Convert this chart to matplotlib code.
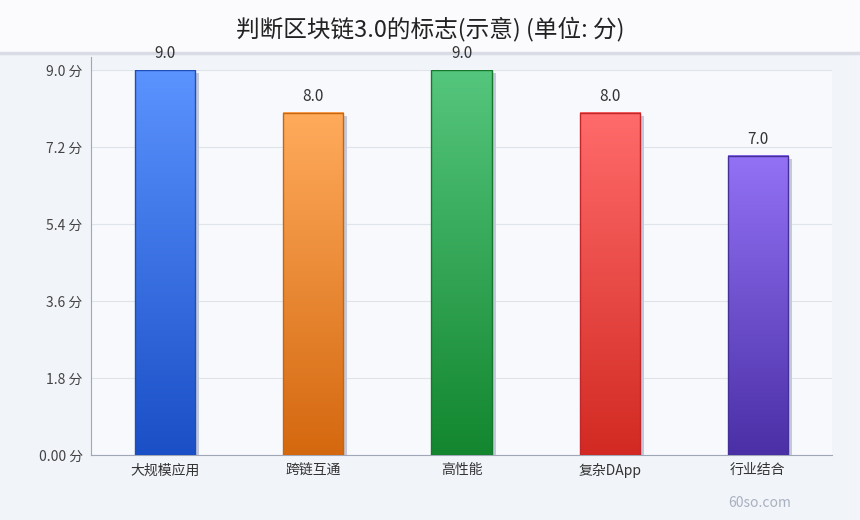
import numpy as np
import matplotlib.pyplot as plt
import matplotlib.transforms as mtransforms
from matplotlib.colors import LinearSegmentedColormap
from matplotlib.patches import Rectangle

plt.rcParams['font.family'] = ['Noto Sans CJK SC', 'DejaVu Sans']

categories = ['大规模应用', '跨链互通', '高性能', '复杂DApp', '行业结合']
scores = [9.0, 8.0, 9.0, 8.0, 7.0]
top_colors = ['#5b93ff', '#ffab5c', '#55c67d', '#ff6b6b', '#9372f5']
bottom_colors = ['#1a4fc6', '#d4680f', '#13862f', '#d22a22', '#4a2fa6']
edge_colors = ['#1e4fb8', '#c9640f', '#137a2c', '#c0262a', '#45309a']
yticks = [0.0, 1.8, 3.6, 5.4, 7.2, 9.0]
ytick_labels = ['0.00 分', '1.8 分', '3.6 分', '5.4 分', '7.2 分', '9.0 分']

fig = plt.figure(figsize=(8.6, 5.2), dpi=100)
fig.patch.set_facecolor('#f1f4f9')

# title band behind everything
band = Rectangle((0, 1 - 52 / 520), 1, 52 / 520, transform=fig.transFigure,
                 facecolor='#fbfbfd', edgecolor='none', zorder=-2)
fig.patches.append(band)
fig.add_artist(plt.Line2D([0, 1], [1 - 53 / 520] * 2, transform=fig.transFigure,
                          color='#d9dce5', linewidth=2.5, zorder=-1))
fig.text(0.5, 1 - 29 / 520, '判断区块链3.0的标志(示意) (单位: 分)', ha='center',
         va='center', fontsize=17, color='#222222')

ax = fig.add_axes([91 / 860, 1 - 455 / 520, (832 - 91) / 860, (455 - 70) / 520])
ax.set_zorder(5)
ax.set_facecolor('#f8f9fc')
ax.set_xlim(-0.5, len(categories) - 0.5)
ax.set_ylim(0, 9.0)

width = 0.405
grad = np.linspace(0, 1, 256).reshape(-1, 1)
shadow_tr = mtransforms.offset_copy(ax.transData, fig=fig, x=4, y=-3, units='dots')
for i, (v, tc, bc, ec) in enumerate(zip(scores, top_colors, bottom_colors, edge_colors)):
    x0 = i - width / 2
    ax.add_patch(Rectangle((x0, 0), width, v, transform=shadow_tr,
                           facecolor='#c3c9da', edgecolor='none', zorder=2))
    cmap = LinearSegmentedColormap.from_list(f'g{i}', [bc, tc])
    ax.imshow(grad, cmap=cmap, origin='lower', aspect='auto',
              extent=[x0, x0 + width, 0, v], zorder=3)
    ax.add_patch(Rectangle((x0, 0), width, v, facecolor='none', edgecolor=ec,
                           linewidth=1.0, zorder=4))
    ax.text(i, v + 0.18, f'{v:.1f}', ha='center', va='bottom', fontsize=11,
            color='#333333', zorder=5, clip_on=False)

ax.set_xlim(-0.5, len(categories) - 0.5)
ax.set_ylim(0, 9.0)
ax.set_yticks(yticks)
ax.set_yticklabels(ytick_labels, fontsize=10, color='#444444')
ax.set_xticks(range(len(categories)))
ax.set_xticklabels(categories, fontsize=10, color='#333333')
ax.tick_params(axis='both', length=0, pad=6)
ax.grid(axis='y', color='#dfe3ea', linewidth=0.8, zorder=0)
ax.set_axisbelow(True)
for s in ['top', 'right']:
    ax.spines[s].set_visible(False)
ax.spines['left'].set_color('#a0a7b6')
ax.spines['bottom'].set_color('#a0a7b6')
ax.spines['left'].set_bounds(0, 9.3)
ax.set_ylim(0, 9.0)

fig.text(760 / 860, 1 - 503 / 520, '60so.com', ha='center', va='center',
         fontsize=10, color='#a9b0c0')

fig.savefig('out.png', dpi=100, facecolor=fig.get_facecolor())
